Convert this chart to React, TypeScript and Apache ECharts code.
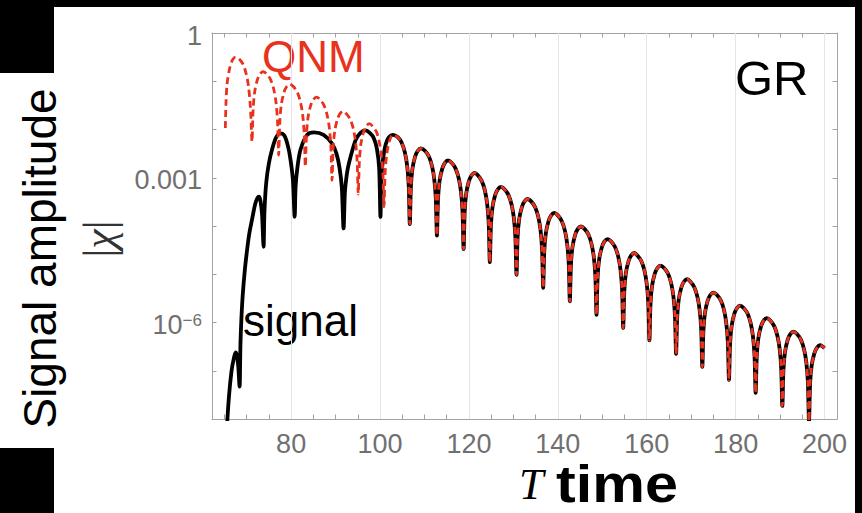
import React, { useEffect, useRef } from "react";
import * as echarts from "echarts";

// ---- data (t, log10 |chi|) ----
const signalEarly: [number, number][] = [
  [65.4, -8.4], [66.0, -7.55], [66.6, -7.0], [67.1, -6.75], [67.5, -6.62], [67.8, -6.68], [68.1, -6.9], [68.4, -7.33],
  [68.6, -6.45], [68.8, -5.95], [69.1, -5.45], [69.6, -4.9], [70.1, -4.49], [70.6, -4.15], [71.2, -3.87], [71.9, -3.55], [72.4, -3.42], [72.8, -3.39], [73.1, -3.48], [73.45, -3.75], [73.8, -4.43],
  [74.0, -3.7], [74.4, -3.1], [75.0, -2.7], [75.7, -2.42], [76.6, -2.17], [77.6, -2.08], [78.5, -2.13], [79.3, -2.35], [79.9, -2.65], [80.4, -3.05], [80.8, -3.81],
  [81.0, -3.2], [81.4, -2.8], [82.1, -2.42], [83.6, -2.11], [85.1, -2.06], [87.3, -2.11], [89.2, -2.29], [90.2, -2.5], [90.9, -2.8], [91.4, -3.2], [91.8, -4.05],
  [92.1, -3.3], [92.5, -2.95], [93.0, -2.7], [94.5, -2.22], [95.6, -2.07], [96.7, -2.02], [97.8, -2.08], [98.6, -2.18], [99.3, -2.4], [99.8, -2.8], [100.1, -3.81],
  [100.3, -3.0], [100.7, -2.6], [101.3, -2.3], [102.0, -2.16],
];

const qnmEarly: [number, number][] = [
  [65.2, -1.97], [65.35, -1.45], [65.6, -1.05], [66.2, -0.72], [66.8, -0.56], [67.5, -0.5], [68.3, -0.54], [69.2, -0.65], [69.9, -0.85], [70.4, -1.1], [70.85, -1.55], [71.2, -2.25],
  [71.45, -1.59], [71.8, -1.22], [72.4, -0.97], [73.0, -0.85], [73.7, -0.8], [74.5, -0.85], [75.4, -0.97], [76.1, -1.17], [76.6, -1.44], [76.95, -1.84], [77.2, -2.53],
  [77.45, -1.85], [77.8, -1.48], [78.4, -1.23], [79.0, -1.11], [79.7, -1.06], [80.5, -1.11], [81.4, -1.23], [82.1, -1.43], [82.6, -1.7], [82.95, -2.1], [83.2, -2.77],
  [83.45, -2.12], [83.8, -1.75], [84.4, -1.5], [85.0, -1.38], [85.7, -1.33], [86.5, -1.38], [87.4, -1.5], [88.1, -1.7], [88.6, -1.97], [88.95, -2.37], [89.2, -3.05],
  [89.45, -2.41], [89.8, -2.04], [90.4, -1.79], [91.0, -1.67], [91.7, -1.62], [92.4, -1.67], [93.3, -1.79], [94.0, -1.99], [94.5, -2.26], [94.85, -2.66], [95.1, -3.34],
  [95.35, -2.67], [95.7, -2.3], [96.3, -2.05], [96.9, -1.93], [97.6, -1.88], [98.3, -1.93], [99.2, -2.05], [99.8, -2.25], [100.3, -2.52], [100.65, -2.92], [100.9, -3.6],
  [101.15, -2.9], [101.5, -2.53], [102.1, -2.24],
];

// shared ringdown where the QNM fit lies on top of the signal
const ringdownTail: [number, number][] = [
  [102.9, -2.11], [104.0, -2.16], [104.9, -2.28], [105.6, -2.48], [106.1, -2.75], [106.45, -3.15], [106.7, -3.96],
  [106.95, -3.18], [107.3, -2.81], [107.9, -2.56], [108.5, -2.44], [109.2, -2.39], [110.1, -2.44], [111.0, -2.56], [111.7, -2.76], [112.2, -3.03], [112.55, -3.43], [112.8, -4.2],
  [113.05, -3.43], [113.4, -3.06], [114.0, -2.81], [114.6, -2.69], [115.3, -2.64], [116.1, -2.69], [117.0, -2.81], [117.7, -3.01], [118.2, -3.28], [118.55, -3.68], [118.8, -4.48],
  [119.05, -3.69], [119.4, -3.32], [120.0, -3.07], [120.6, -2.95], [121.3, -2.9], [122.0, -2.95], [122.9, -3.07], [123.6, -3.27], [124.1, -3.54], [124.45, -3.94], [124.7, -4.75],
  [124.95, -3.98], [125.3, -3.61], [125.9, -3.36], [126.5, -3.24], [127.2, -3.19], [128.0, -3.24], [128.9, -3.36], [129.6, -3.56], [130.1, -3.83], [130.45, -4.23], [130.7, -5.01],
  [130.95, -4.23], [131.3, -3.86], [131.9, -3.61], [132.5, -3.49], [133.2, -3.44], [134.0, -3.49], [134.9, -3.61], [135.6, -3.81], [136.1, -4.08], [136.45, -4.48], [136.7, -5.28],
  [136.95, -4.52], [137.3, -4.15], [137.9, -3.9], [138.5, -3.78], [139.2, -3.73], [140.0, -3.78], [140.9, -3.9], [141.6, -4.1], [142.1, -4.37], [142.45, -4.77], [142.7, -5.56],
  [142.95, -4.8], [143.3, -4.43], [143.9, -4.18], [144.5, -4.06], [145.2, -4.01], [146.0, -4.06], [146.9, -4.18], [147.6, -4.38], [148.1, -4.65], [148.45, -5.05], [148.7, -5.84],
  [148.95, -5.06], [149.3, -4.69], [149.9, -4.44], [150.5, -4.32], [151.2, -4.27], [152.0, -4.32], [152.9, -4.44], [153.6, -4.64], [154.1, -4.91], [154.45, -5.31], [154.7, -6.11],
  [154.95, -5.35], [155.3, -4.98], [155.9, -4.73], [156.5, -4.61], [157.2, -4.56], [157.9, -4.61], [158.8, -4.73], [159.5, -4.93], [160.0, -5.2], [160.35, -5.6], [160.6, -6.37],
  [160.85, -5.61], [161.2, -5.24], [161.8, -4.99], [162.4, -4.87], [163.1, -4.82], [163.9, -4.87], [164.8, -4.99], [165.5, -5.19], [166.0, -5.46], [166.35, -5.86], [166.6, -6.65],
  [166.85, -5.89], [167.2, -5.52], [167.8, -5.27], [168.4, -5.15], [169.1, -5.1], [169.8, -5.15], [170.7, -5.27], [171.4, -5.47], [171.9, -5.74], [172.25, -6.14], [172.5, -6.92],
  [172.75, -6.17], [173.1, -5.8], [173.7, -5.55], [174.3, -5.43], [175.0, -5.38], [175.8, -5.43], [176.7, -5.55], [177.4, -5.75], [177.9, -6.02], [178.25, -6.42], [178.5, -7.19],
  [178.75, -6.44], [179.1, -6.07], [179.7, -5.82], [180.3, -5.7], [181.0, -5.65], [181.8, -5.7], [182.7, -5.82], [183.4, -6.02], [183.9, -6.29], [184.25, -6.69], [184.5, -7.46],
  [184.75, -6.7], [185.1, -6.33], [185.7, -6.08], [186.3, -5.96], [187.0, -5.91], [187.8, -5.96], [188.7, -6.08], [189.4, -6.28], [189.9, -6.55], [190.25, -6.95], [190.5, -7.73],
  [190.75, -6.98], [191.1, -6.61], [191.7, -6.36], [192.3, -6.24], [193.0, -6.19], [193.8, -6.24], [194.7, -6.36], [195.4, -6.56], [195.9, -6.83], [196.25, -7.23], [196.5, -8.05],
  [196.75, -7.26], [197.1, -6.89], [197.7, -6.64], [198.3, -6.52], [199.0, -6.47], [199.6, -6.5], [200.0, -6.53],
];

const xLabelValues = [80, 100, 120, 140, 160, 180, 200];
const xTickValues = [65, 70, 75, 80, 85, 90, 95, 100, 105, 110, 115, 120, 125, 130, 135, 140, 145, 150, 155, 160, 165, 170, 175, 180, 185, 190, 195, 200];
const yGridValues = [1e-3, 1e-6];
const xMin = 62.2;
const xMax = 202.8;
const yMin = 1e-8;
const yMax = 1;

const SANS = '"Liberation Sans", Arial, Helvetica, sans-serif';
const SERIF = '"Liberation Serif", "Times New Roman", serif';
const AXIS_GRAY = "#a3a3a3";
const LABEL_GRAY = "#707070";
const RED = "#e8321e";

const toPoints = (arr: [number, number][]) => arr.map(([t, e]) => [t, Math.pow(10, e)]);

function yLabel(v: number): string {
  const e = Math.round(Math.log10(v));
  if (e === 0) return "1";
  if (e === -3) return "0.001";
  if (e === -6) return "{b|10}{s|\u22126}";
  return "";
}

export default function App() {
  const ref = useRef<HTMLDivElement>(null);
  useEffect(() => {
    if (!ref.current) return;
    const chart = echarts.init(ref.current, undefined, { renderer: "svg" });
    const frameAxis = {
      type: "value" as const,
      min: xMin,
      max: xMax,
      axisLine: { show: true, lineStyle: { color: AXIS_GRAY, width: 1 } },
      splitLine: { show: false },
    };
    chart.setOption({
      animation: false,
      backgroundColor: "#ffffff",
      grid: { left: 212, right: 25, top: 33, bottom: 94, containLabel: false },
      xAxis: [
        {
          ...frameAxis,
          position: "bottom",
          axisTick: { show: true, inside: true, length: 4.5, customValues: xTickValues, lineStyle: { color: AXIS_GRAY } },
          axisLabel: { show: true, customValues: xLabelValues, color: LABEL_GRAY, fontSize: 27, fontFamily: SANS, margin: 11 },
        },
        {
          ...frameAxis,
          position: "top",
          axisTick: { show: true, inside: true, length: 4.5, customValues: xTickValues, lineStyle: { color: AXIS_GRAY } },
          axisLabel: { show: false },
        },
      ],
      yAxis: [
        {
          type: "log",
          logBase: 10,
          min: yMin,
          max: yMax,
          splitNumber: 8,
          position: "left",
          axisLine: { show: true, lineStyle: { color: AXIS_GRAY, width: 1 } },
          axisTick: { show: true, inside: true, length: 4.5, lineStyle: { color: AXIS_GRAY } },
          splitLine: { show: false },
          axisLabel: {
            show: true,
            formatter: yLabel,
            color: LABEL_GRAY,
            fontSize: 27,
            fontFamily: SANS,
            margin: 10,
            padding: [5, 0, 0, 0],
            rich: {
              b: { fontSize: 27, fontFamily: SANS, color: LABEL_GRAY },
              s: { fontSize: 17, fontFamily: SANS, color: LABEL_GRAY, verticalAlign: "top", lineHeight: 17 },
            },
          },
        },
        {
          type: "log",
          logBase: 10,
          min: yMin,
          max: yMax,
          splitNumber: 8,
          position: "right",
          axisLine: { show: true, lineStyle: { color: AXIS_GRAY, width: 1 } },
          axisTick: { show: true, inside: true, length: 4.5, lineStyle: { color: AXIS_GRAY } },
          splitLine: { show: false },
          axisLabel: { show: false },
        },
      ],
      series: [
        {
          name: "grid",
          type: "line",
          data: [],
          xAxisIndex: 0,
          yAxisIndex: 0,
          silent: true,
          markLine: {
            silent: true,
            z: 1,
            symbol: ["none", "none"],
            label: { show: false },
            lineStyle: { color: "#e4e4e4", width: 1, type: "solid" },
            emphasis: { disabled: true },
            data: [
              ...xLabelValues.map((v) => ({ xAxis: v })),
              ...yGridValues.map((v) => ({ yAxis: v })),
            ],
          },
        },
        {
          name: "signal",
          type: "line",
          xAxisIndex: 0,
          yAxisIndex: 0,
          z: 3,
          data: toPoints([...signalEarly, ...ringdownTail]),
          showSymbol: false,
          symbol: "none",
          smooth: 0.3,
          clip: true,
          lineStyle: { color: "#000000", width: 3.8, join: "round" },
        },
        {
          name: "QNM",
          type: "line",
          xAxisIndex: 0,
          yAxisIndex: 0,
          z: 4,
          data: toPoints([...qnmEarly, ...ringdownTail]),
          showSymbol: false,
          symbol: "none",
          smooth: 0.3,
          clip: true,
          lineStyle: { color: RED, width: 2.8, type: [7, 4] },
        },
      ],
      graphic: [
        { type: "rect", shape: { x: 0, y: 0, width: 862, height: 7 }, style: { fill: "#000" } },
        { type: "rect", shape: { x: 855, y: 0, width: 7, height: 513 }, style: { fill: "#000" } },
        { type: "rect", shape: { x: 0, y: 0, width: 54, height: 73 }, style: { fill: "#000" } },
        { type: "rect", shape: { x: 0, y: 448, width: 54, height: 65 }, style: { fill: "#000" } },
        {
          type: "text", x: 39.5, y: 258.5, rotation: Math.PI / 2,
          style: { text: "Signal amplitude", fontSize: 46, fontFamily: SANS, fill: "#000", align: "center", verticalAlign: "middle" },
        },
        {
          type: "text", x: 99, y: 239, rotation: Math.PI / 2,
          style: {
            text: "{b||}{c|\u03c7}{b||}", align: "center", verticalAlign: "middle",
            rich: {
              b: { fontSize: 44, fontFamily: SERIF, fill: "#333" },
              c: { fontSize: 44, fontFamily: SERIF, fontStyle: "italic", fill: "#333" },
            },
          },
        },
        {
          type: "text", x: 519, y: 484,
          style: { text: "T", fontSize: 44, fontFamily: SERIF, fontStyle: "italic", fill: "#000", align: "left", verticalAlign: "middle" },
        },
        {
          type: "text", x: 556, y: 484, scaleX: 1.14,
          style: { text: "time", fontSize: 52, fontFamily: SANS, fontWeight: "bold", fill: "#000", align: "left", verticalAlign: "middle" },
        },
        {
          type: "text", x: 262, y: 56,
          style: { text: "QNM", fontSize: 44, fontFamily: SANS, fill: RED, align: "left", verticalAlign: "middle" },
        },
        {
          type: "text", x: 735, y: 78,
          style: { text: "GR", fontSize: 49, fontFamily: SANS, fill: "#000", align: "left", verticalAlign: "middle" },
        },
        {
          type: "text", x: 243, y: 320,
          style: { text: "signal", fontSize: 44, fontFamily: SANS, fill: "#000", align: "left", verticalAlign: "middle" },
        },
      ],
    });
    return () => chart.dispose();
  }, []);
  return (
    <div
      ref={ref}
      style={{ position: "absolute", left: 0, top: 0, width: 862, height: 513 }}
    />
  );
}
